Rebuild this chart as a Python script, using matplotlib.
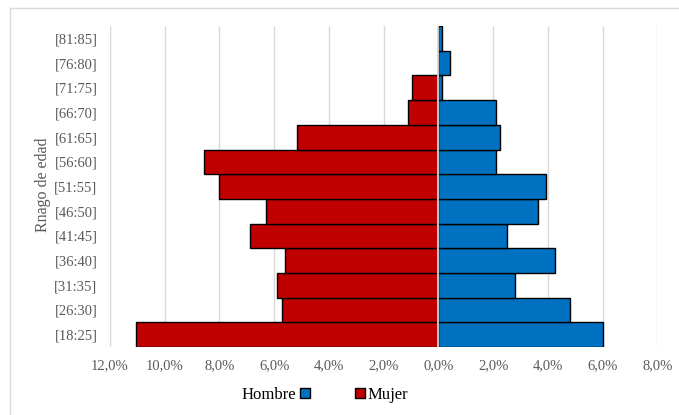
import matplotlib.pyplot as plt
import matplotlib.patches as mpatches
import numpy as np

# age groups, bottom to top
age_groups = ['[18:25]', '[26:30]', '[31:35]', '[36:40]', '[41:45]', '[46:50]', '[51:55]',
              '[56:60]', '[61:65]', '[66:70]', '[71:75]', '[76:80]', '[81:85]']
# share of population (%)
hombre = [6.03, 4.8, 2.8, 4.25, 2.5, 3.65, 3.95, 2.1, 2.25, 2.12, 0.15, 0.44, 0.15]
mujer = [11.05, 5.7, 5.9, 5.6, 6.9, 6.3, 8.0, 8.55, 5.15, 1.1, 0.97, 0.0, 0.0]
x_ticks = [-12, -10, -8, -6, -4, -2, 0, 2, 4, 6, 8]

plt.rcParams['font.family'] = ['Liberation Serif', 'DejaVu Serif']
gray = '#595959'
red = '#C00000'
blue = '#0070C0'

fig = plt.figure(figsize=(6.79, 4.15), dpi=100)
ax = fig.add_axes([0.162, 0.164, 0.806, 0.773])

y = np.arange(len(age_groups))
ax.barh(y, -np.array(mujer), height=1.0, color=red, edgecolor='black', linewidth=1.0, zorder=2)
ax.barh(y, hombre, height=1.0, color=blue, edgecolor='black', linewidth=1.0, zorder=2)
ax.axvline(0, color='#e8e8e8', linewidth=1.2, zorder=3)

ax.set_xlim(-12, 8)
ax.set_ylim(-0.5, len(age_groups) - 0.5)
ax.set_xticks(x_ticks)
ax.set_xticklabels([f'{abs(v):.1f}%'.replace('.', ',') for v in x_ticks])
ax.set_yticks(y)
ax.set_yticklabels(age_groups)
ax.tick_params(axis='both', length=0, colors=gray, labelsize=10.5)
ax.tick_params(axis='x', pad=9)
ax.tick_params(axis='y', pad=9)
ax.grid(axis='x', color='#d9d9d9', linewidth=1.0, zorder=0)
ax.set_axisbelow(True)
for s in ax.spines.values():
    s.set_visible(False)

fig.text(0.064, 0.555, 'Rnago de edad', rotation=90, ha='center', va='center',
         color=gray, fontsize=11.5)

# legend: text before the blue box, red box before text
leg1 = ax.legend(handles=[mpatches.Patch(facecolor=blue, edgecolor='black', label='Hombre')],
                 loc='center', bbox_to_anchor=(0.406, 0.048), bbox_transform=fig.transFigure,
                 frameon=False, markerfirst=False,
                 fontsize=12, handlelength=0.6, handleheight=0.6, handletextpad=0.2)
ax.add_artist(leg1)
ax.legend(handles=[mpatches.Patch(facecolor=red, edgecolor='black', label='Mujer')],
          loc='center', bbox_to_anchor=(0.562, 0.048), bbox_transform=fig.transFigure,
          frameon=False, fontsize=12, handlelength=0.6, handleheight=0.6, handletextpad=0.2)

# outer frame of the chart
fig.add_artist(mpatches.Rectangle((10 / 679, -0.05), 1.0, 1 - 8 / 415 + 0.05,
                                  transform=fig.transFigure, fill=False,
                                  edgecolor='#d9d9d9', linewidth=1.0))

plt.savefig('out.png', dpi=100)
plt.close()
